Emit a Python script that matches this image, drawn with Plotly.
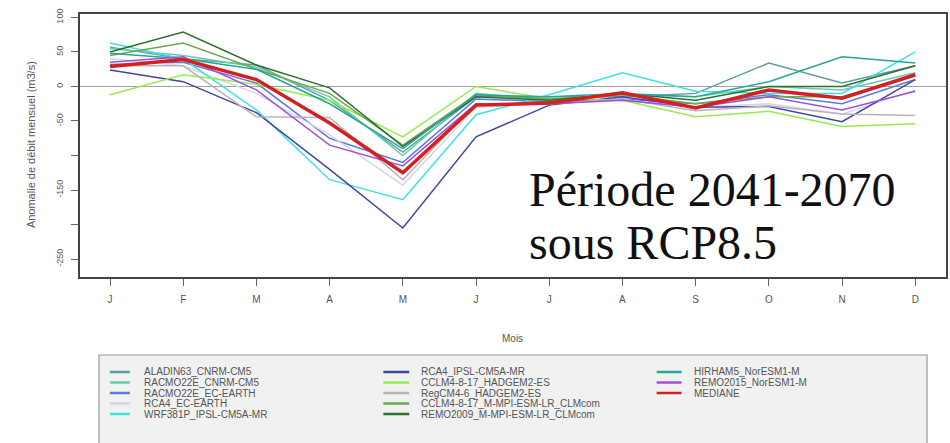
import plotly.graph_objects as go

months = [1, 2, 3, 4, 5, 6, 7, 8, 9, 10, 11, 12]
month_labels = ["J", "F", "M", "A", "M", "J", "J", "A", "S", "O", "N", "D"]

aladin63_cnrm = [57, 40, 31, -20, -95, -15, -15, -15, -10, 34, 5, 30]
racmo22e_cnrm = [55, 45, 28, -15, -100, -10, -20, -12, -15, 0, -5, 20]
racmo22e_ecearth = [32, 35, 5, -75, -110, -18, -22, -18, -25, -12, -25, 10]
rca4_ecearth = [40, 30, -10, -70, -143, -30, -25, -20, -30, -25, -40, -5]
wrf381p_ipsl = [63, 40, -34, -135, -164, -41, -12, 20, -7, -10, -10, 50]
rca4_ipsl = [24, 7, -38, -120, -205, -73, -27, -15, -30, -29, -51, 10]
cclm_hadgem = [-12, 17, 3, -20, -73, 0, -18, -20, -44, -36, -58, -54]
regcm_hadgem = [30, 30, -44, -45, -135, -25, -25, -18, -35, -28, -40, -42]
cclm_mpi = [45, 63, 25, -10, -85, -12, -18, -12, -25, -15, -15, 15]
remo2009_mpi = [50, 79, 31, -2, -87, -15, -20, -10, -20, 0, 0, 30]
hirham5_noresm = [48, 40, 25, -25, -90, -12, -15, -10, -15, 7, 43, 34]
remo2015_noresm = [35, 43, -5, -85, -115, -25, -25, -20, -30, -15, -34, -7]
mediane = [29, 39, 10, -53, -125, -27, -24, -9, -31, -5, -17, 17]

series_names = [
    "ALADIN63_CNRM-CM5", "RACMO22E_CNRM-CM5", "RACMO22E_EC-EARTH", "RCA4_EC-EARTH",
    "WRF381P_IPSL-CM5A-MR", "RCA4_IPSL-CM5A-MR", "CCLM4-8-17_HADGEM2-ES",
    "RegCM4-6_HADGEM2-ES", "CCLM4-8-17_M-MPI-ESM-LR_CLMcom",
    "REMO2009_M-MPI-ESM-LR_CLMcom", "HIRHAM5_NorESM1-M", "REMO2015_NorESM1-M", "MEDIANE",
]
series_values = [
    aladin63_cnrm, racmo22e_cnrm, racmo22e_ecearth, rca4_ecearth, wrf381p_ipsl,
    rca4_ipsl, cclm_hadgem, regcm_hadgem, cclm_mpi, remo2009_mpi, hirham5_noresm,
    remo2015_noresm, mediane,
]
series_colors = [
    "#5f9ea0", "#66cdaa", "#5b7bd6", "#d6d6e4", "#3fe0e6", "#45459f", "#96ec4c",
    "#b4b4c2", "#6aa84f", "#2f6f2f", "#26a69a", "#a050d8", "#d42020",
]
series_widths = [1.5] * 12 + [3.5]

# layout geometry (pixels)
W, H = 950, 443
L, R, T, B = 80, 948, 14, 277


def px_x(px):
    return (px - L) / (R - L)


def px_y(py):
    return (B - py) / (B - T)


fig = go.Figure()
for name, vals, col, w in zip(series_names, series_values, series_colors, series_widths):
    fig.add_trace(go.Scatter(x=months, y=vals, mode="lines", name=name,
                             line=dict(color=col, width=w), showlegend=False))

shapes = []
annotations = []

# legend box
shapes.append(dict(type="rect", xref="paper", yref="paper",
                   x0=px_x(99), x1=px_x(929), y0=px_y(470), y1=px_y(355),
                   fillcolor="#f1f1f1", line=dict(color="#9a9a9a", width=1.2),
                   layer="below"))
col_line_x = [(110, 130), (384, 410), (658, 683)]
col_text_x = [142, 420, 693]
row_y = [372, 382.5, 393, 403.5, 414]
for i, (name, col, w) in enumerate(zip(series_names, series_colors, series_widths)):
    c, r = divmod(i, 5)
    yy = px_y(row_y[r])
    shapes.append(dict(type="line", xref="paper", yref="paper",
                       x0=px_x(col_line_x[c][0]), x1=px_x(col_line_x[c][1]),
                       y0=yy, y1=yy, line=dict(color=col, width=2.5)))
    annotations.append(dict(xref="paper", yref="paper", x=px_x(col_text_x[c]), y=yy,
                            xanchor="left", yanchor="middle", text=name, showarrow=False,
                            font=dict(family="Liberation Sans", size=10, color="#555555")))

# big annotation text
annotations.append(dict(xref="paper", yref="paper", x=px_x(528), y=px_y(189),
                        xanchor="left", yanchor="middle", text="Période 2041-2070",
                        showarrow=False,
                        font=dict(family="Liberation Serif", size=48, color="#111111")))
annotations.append(dict(xref="paper", yref="paper", x=px_x(528), y=px_y(242),
                        xanchor="left", yanchor="middle", text="sous RCP8.5",
                        showarrow=False,
                        font=dict(family="Liberation Serif", size=48, color="#111111")))

# axis titles
annotations.append(dict(xref="paper", yref="paper", x=px_x(513), y=px_y(338),
                        xanchor="center", yanchor="middle", text="Mois", showarrow=False,
                        font=dict(family="Liberation Sans", size=10, color="#555555")))
annotations.append(dict(xref="paper", yref="paper", x=px_x(31), y=px_y(145),
                        xanchor="center", yanchor="middle",
                        text="Anomalie de débit mensuel (m3/s)", textangle=-90,
                        showarrow=False,
                        font=dict(family="Liberation Sans", size=11, color="#555555")))

fig.update_layout(
    width=W, height=H,
    margin=dict(l=L, r=W - R, t=T, b=H - B),
    paper_bgcolor="white", plot_bgcolor="white",
    shapes=shapes, annotations=annotations,
    showlegend=False,
    xaxis=dict(range=[0.59, 12.42], tickvals=months, ticktext=month_labels,
               showgrid=False, zeroline=False, ticks="outside", ticklen=7,
               tickcolor="#666666", tickwidth=1, ticklabelstandoff=5,
               tickfont=dict(family="Liberation Sans", size=10, color="#555555"),
               showline=True, mirror=True, linecolor="#444444", linewidth=2),
    yaxis=dict(range=[-276, 105],
               tickvals=[100, 50, 0, -50, -100, -150, -200, -250],
               ticktext=["100", "50", "0", "-50", "", "-150", "", "-250"],
               tickangle=-90, showgrid=False, zeroline=True,
               zerolinecolor="#a0a0a0", zerolinewidth=1,
               ticks="outside", ticklen=7, tickcolor="#666666", tickwidth=1,
               ticklabelstandoff=4,
               tickfont=dict(family="Liberation Sans", size=9, color="#555555"),
               showline=True, mirror=True, linecolor="#444444", linewidth=2),
)

fig.write_html("out.html")
